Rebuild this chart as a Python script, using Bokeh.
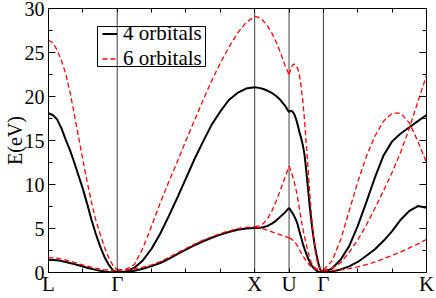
from bokeh.plotting import figure
from bokeh.models import (Span, LinearAxis, FixedTicker, Legend, LegendItem, Range1d,
                          Grid, BoxAnnotation)
from bokeh.embed import file_html
from bokeh.resources import INLINE

FONT = "Liberation Serif, Times New Roman, Times, serif"

# ---- path coordinate of the high-symmetry points and axis ticks ----
sym_pos = [0, 2, 6, 7, 8, 11]
sym_names = ["L", "Γ", "X", "U", "Γ", "K"]
sym_lines = [2, 6, 7, 8]
x_ticks = [0, 1, 2, 3, 4, 5, 6, 7, 8, 9, 10, 11]
y_major = [0, 5, 10, 15, 20, 25, 30]
y_minor = [2.5, 7.5, 12.5, 17.5, 22.5, 27.5]
y_labels = ["0", "5", "10", "15", "20", "25", "30"]

# ---- L -> Gamma ----
k_LG = [0, 0.125, 0.25, 0.375, 0.5, 0.625, 0.75, 0.875, 1.0, 1.125, 1.25,
        1.375, 1.5, 1.625, 1.75, 1.875, 2.0]
o4_LG_up = [18.1, 17.9, 17.4, 16.4, 15.1, 13.9, 12.5, 11.0, 9.5, 7.8, 6.0,
            4.4, 3.0, 1.8, 0.9, 0.25, 0.0]
o4_LG_lo = [1.45, 1.43, 1.38, 1.3, 1.2, 1.08, 0.95, 0.82, 0.68, 0.55, 0.42,
            0.3, 0.2, 0.12, 0.06, 0.02, 0.0]
o6_LG_up = [26.4, 26.1, 25.3, 24.1, 22.6, 20.5, 18.0, 15.4, 12.8, 10.3, 8.0,
            6.0, 4.4, 2.9, 1.7, 0.8, 0.3]
o6_LG_lo = [1.7, 1.67, 1.62, 1.53, 1.42, 1.29, 1.15, 1.0, 0.86, 0.73, 0.6,
            0.49, 0.4, 0.33, 0.28, 0.25, 0.25]

# ---- Gamma -> X ----
k_GX = [2.0, 2.25, 2.5, 2.75, 3.0, 3.25, 3.5, 3.75, 4.0, 4.25, 4.5, 4.75, 5.0, 5.25, 5.5, 5.75, 6.0]
o4_GX_up = [0.0, 0.12, 0.55, 1.4, 2.7, 4.4, 6.4, 8.5, 10.7, 12.9, 14.9, 16.8, 18.3, 19.6, 20.4, 20.9, 21.05]
o4_GX_lo = [0.0, 0.05, 0.2, 0.42, 0.72, 1.08, 1.55, 2.1, 2.6, 3.1, 3.55, 3.95, 4.3, 4.6, 4.85, 5.0, 5.05]
o6_GX_up = [0.3, 0.35, 0.9, 2.8, 5.3, 7.9, 10.3, 12.6, 15.0, 17.3, 19.6, 21.8, 23.8, 25.6, 27.2, 28.4, 29.1]
o6_GX_lo = [0.25, 0.28, 0.4, 0.6, 0.88, 1.24, 1.7, 2.22, 2.73, 3.22, 3.67, 4.07, 4.42, 4.72, 4.97, 5.13, 5.2]

# ---- X -> U ----
k_XU = [6.0, 6.125, 6.25, 6.375, 6.5, 6.625, 6.75, 6.875, 7.0]
o4_XU_up = [21.05, 20.98, 20.85, 20.65, 20.4, 20.05, 19.6, 19.0, 18.2]
o4_XU_lo = [5.05, 5.07, 5.15, 5.3, 5.55, 5.9, 6.35, 6.8, 7.35]
o6_XU_up = [29.1, 29.0, 28.6, 28.0, 27.2, 26.2, 25.0, 23.6, 22.5]
o6_XU_mid = [5.2, 5.3, 5.55, 6.1, 7.0, 8.1, 9.4, 10.7, 12.1]
o6_XU_lo = [5.2, 5.08, 4.95, 4.8, 4.62, 4.45, 4.28, 4.1, 3.95]

# ---- U -> Gamma ----
k_UG = [7.0, 7.05, 7.1, 7.15, 7.2, 7.25, 7.3, 7.35, 7.4, 7.45, 7.5,
        7.55, 7.6, 7.65, 7.7, 7.75, 7.8, 7.85, 7.9, 7.95, 8.0]
o4_UG_up = [18.2, 18.4, 18.3, 18.0, 17.5, 16.8, 16.0, 15.3, 14.5, 13.4, 11.6,
            9.6, 7.6, 5.8, 4.3, 3.0, 2.0, 1.1, 0.4, 0.1, 0.0]
o4_UG_lo = [7.35, 7.05, 6.75, 6.4, 6.0, 5.45, 4.7, 4.0, 3.3, 2.7, 2.15,
            1.65, 1.2, 0.85, 0.58, 0.36, 0.2, 0.1, 0.04, 0.01, 0.0]
o6_UG_up = [22.5, 23.1, 23.55, 23.7, 23.5, 23.2, 22.5, 21.2, 19.5, 17.3, 14.7,
            11.9, 9.1, 6.6, 4.5, 2.8, 1.6, 0.8, 0.45, 0.32, 0.3]
o6_UG_mid = [12.1, 11.6, 11.0, 10.3, 9.5, 8.5, 7.3, 6.1, 5.0, 4.1, 3.2,
             2.4, 1.6, 1.1, 0.75, 0.55, 0.42, 0.32, 0.27, 0.25, 0.25]
o6_UG_lo = [3.95, 3.85, 3.7, 3.5, 3.3, 2.97, 2.6, 2.25, 1.9, 1.6, 1.3,
            1.05, 0.82, 0.65, 0.5, 0.4, 0.32, 0.26, 0.22, 0.2, 0.2]

# ---- Gamma -> K ----
k_GK = [8.0, 8.25, 8.5, 8.75, 9.0, 9.25, 9.5, 9.75, 10.0, 10.25, 10.5, 10.75, 11.0]
o4_GK_up = [0.0, 0.45, 1.45, 3.0, 5.3, 8.0, 10.8, 13.3, 14.9, 15.8, 16.5, 17.2, 17.9]
o4_GK_lo = [0.0, 0.1, 0.35, 0.7, 1.2, 1.9, 2.65, 3.6, 4.7, 6.0, 7.0, 7.55, 7.35]
o6_GK_a = [0.3, 1.3, 3.7, 7.0, 10.3, 13.2, 15.5, 17.2, 18.1, 18.1, 17.0, 14.9, 12.5]
o6_GK_b = [0.25, 0.5, 1.1, 2.3, 3.7, 5.4, 7.3, 9.3, 11.4, 13.7, 16.4, 19.4, 22.4]
o6_GK_c = [0.2, 0.22, 0.3, 0.45, 0.65, 0.9, 1.2, 1.55, 1.95, 2.35, 2.8, 3.25, 3.75]

series_labels = ["4 orbitals", "6 orbitals"]
y_title = "E(eV)"

o4_xs = [k_LG, k_LG, k_GX, k_GX, k_XU, k_XU, k_UG, k_UG, k_GK, k_GK]
o4_ys = [o4_LG_up, o4_LG_lo, o4_GX_up, o4_GX_lo, o4_XU_up, o4_XU_lo,
         o4_UG_up, o4_UG_lo, o4_GK_up, o4_GK_lo]
o6_xs = [k_LG, k_LG, k_GX, k_GX, k_XU, k_XU, k_XU, k_UG, k_UG, k_UG, k_GK, k_GK, k_GK]
o6_ys = [o6_LG_up, o6_LG_lo, o6_GX_up, o6_GX_lo, o6_XU_up, o6_XU_mid, o6_XU_lo,
         o6_UG_up, o6_UG_mid, o6_UG_lo, o6_GK_a, o6_GK_b, o6_GK_c]

p = figure(width=436, height=298, x_range=Range1d(0, 11), y_range=Range1d(0, 30),
           output_backend="svg", toolbar_location=None,
           x_axis_location=None, y_axis_location=None,
           min_border_left=48, min_border_right=10, min_border_top=8, min_border_bottom=25)
p.outline_line_color = "black"
p.background_fill_color = "white"
p.border_fill_color = "white"


def make_axis(ticker, tick_in, minor_in, labels=None, size="20px"):
    ax = LinearAxis(ticker=ticker, major_tick_in=tick_in, major_tick_out=0,
                    minor_tick_in=minor_in, minor_tick_out=0,
                    axis_line_color="black", axis_line_width=1,
                    major_tick_line_color="black", minor_tick_line_color="black",
                    major_label_text_font=FONT, major_label_text_color="black",
                    major_label_text_font_size=size, major_label_standoff=2)
    if labels is None:
        ax.major_label_text_font_size = "0px"
        ax.major_label_overrides = {t: "" for t in ticker.ticks}
    else:
        ax.major_label_overrides = labels
    return ax


x_ticker_b = FixedTicker(ticks=x_ticks, minor_ticks=[])
x_ticker_t = FixedTicker(ticks=x_ticks, minor_ticks=[])
y_ticker_l = FixedTicker(ticks=y_major, minor_ticks=y_minor)
y_ticker_r = FixedTicker(ticks=y_major, minor_ticks=y_minor)

x_label_map = {t: "" for t in x_ticks}
for t, s in zip(sym_pos, sym_names):
    x_label_map[t] = s

left_ax = make_axis(y_ticker_l, 7, 4, {t: s for t, s in zip(y_major, y_labels)})
left_ax.major_label_standoff = 4
left_ax.axis_label = y_title
left_ax.axis_label_text_font = FONT
left_ax.axis_label_text_font_style = "normal"
left_ax.axis_label_text_font_size = "20px"
left_ax.axis_label_text_color = "black"
left_ax.axis_label_standoff = -4
p.add_layout(left_ax, "left")
p.add_layout(make_axis(y_ticker_r, 7, 4), "right")
bottom_ax = make_axis(x_ticker_b, 4, 0, x_label_map, size="21px")
bottom_ax.major_label_standoff = -1
p.add_layout(bottom_ax, "below")
p.add_layout(make_axis(x_ticker_t, 4, 0), "above")

p.center = [r for r in p.center if not isinstance(r, Grid)]

for xv in sym_lines:
    p.add_layout(Span(location=xv, dimension="height", line_color="#404040",
                      line_width=1, level="underlay"))

r4 = p.multi_line(xs=o4_xs, ys=o4_ys, line_color="black", line_width=2)
r6 = p.multi_line(xs=o6_xs, ys=o6_ys, line_color="#ff0000", line_width=1.3,
                  line_dash="5 3")

# legend frame (screen units, relative to the plot frame's lower-left corner)
p.add_layout(BoxAnnotation(left=49, right=157, bottom=206, top=246,
                           left_units="screen", right_units="screen",
                           bottom_units="screen", top_units="screen",
                           fill_alpha=0.0, line_color="black", line_width=1,
                           line_alpha=1.0))

legend = Legend(items=[LegendItem(label=series_labels[0], renderers=[r4]),
                       LegendItem(label=series_labels[1], renderers=[r6])],
                location=(54, 201), padding=0, spacing=-9,
                glyph_width=15, glyph_height=19, label_height=19, label_standoff=6,
                label_text_font=FONT, label_text_font_size="21px",
                label_text_color="black",
                border_line_alpha=0.0, background_fill_alpha=0.0)
p.add_layout(legend)

open("out.html", "w", encoding="utf-8").write(file_html(p, INLINE))
